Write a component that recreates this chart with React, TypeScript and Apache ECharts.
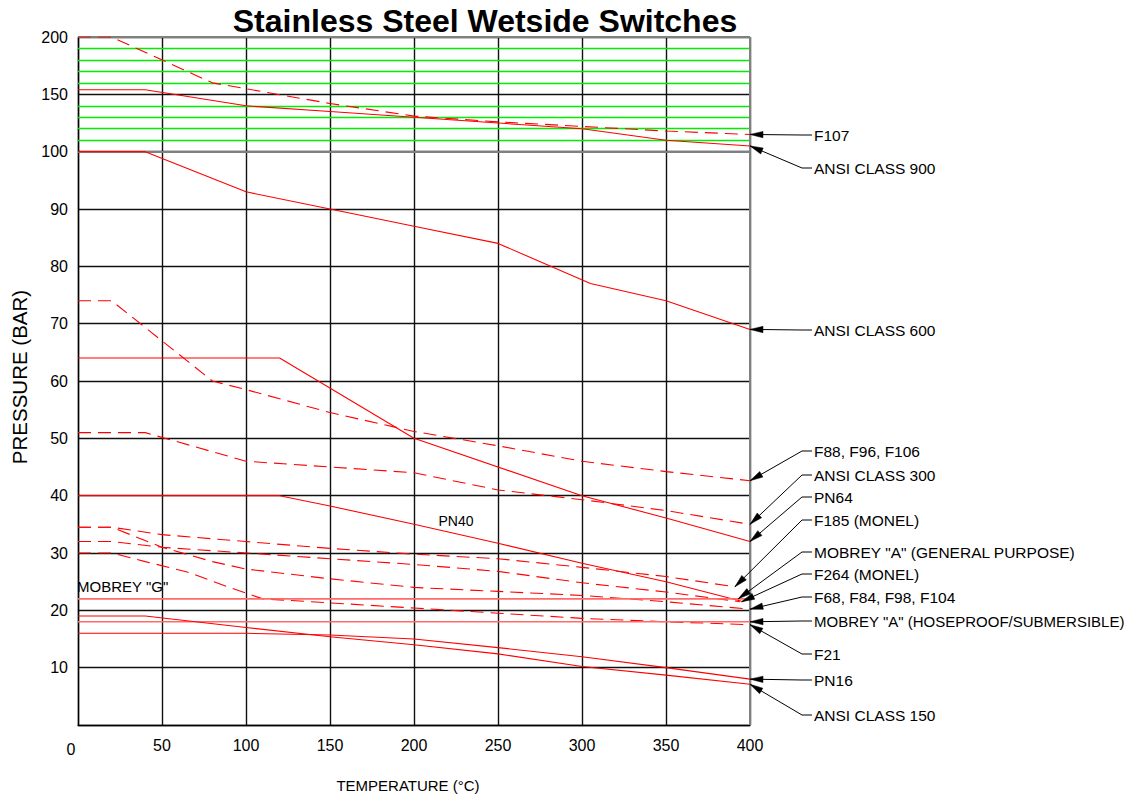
import React, { useEffect, useRef } from "react";
import * as echarts from "echarts";

// ---- axis scale: 0-100 bar linear, 100-200 bar compressed 5x ----
const tf = (p: number) => (p <= 100 ? p : 100 + (p - 100) / 5);

// ---- tick values ----
const xTicks = [0, 50, 100, 150, 200, 250, 300, 350, 400];
const greenLevels = [110, 120, 130, 140, 160, 170, 180, 190];

// ---- series data (temperature °C, pressure bar) ----
const f107T = [0, 20, 80, 150, 200, 250, 300, 350, 400];
const f107P = [200, 200, 160, 142, 131, 126, 122, 118, 115];

const ansi900T = [0, 40, 100, 150, 200, 250, 300, 350, 400];
const ansi900P = [154, 154, 140, 135, 130, 125, 120, 110, 105];

const ansi600T = [0, 40, 100, 150, 200, 250, 305, 350, 400];
const ansi600P = [100, 100, 93, 90, 87, 84, 77, 74, 69];

const f88T = [0, 20, 80, 100, 150, 200, 250, 300, 350, 400];
const f88P = [74, 74, 60, 58.5, 54.5, 51.2, 48.7, 46, 44.2, 42.6];

const ansi300T = [0, 40, 100, 150, 200, 250, 300, 350, 400];
const ansi300P = [51, 51, 46, 45, 44, 41, 39.3, 37.4, 35];

const pn64T = [0, 120, 200, 300, 350, 400];
const pn64P = [64, 64, 50, 40, 36.1, 32];

const pn40T = [0, 120, 150, 200, 250, 300, 350, 395];
const pn40P = [40, 40, 38.2, 35, 31.7, 28.2, 25, 21.6];

const f185T = [0, 20, 50, 100, 150, 200, 250, 300, 350, 391];
const f185P = [34.5, 34.5, 33.2, 32, 30.8, 29.8, 29, 27.5, 25.9, 24.1];

const f264T = [0, 20, 50, 100, 150, 200, 250, 300, 350, 394];
const f264P = [32, 32, 31, 30, 29, 28, 26.8, 24.8, 23.2, 21.5];

const f68T = [0, 20, 50, 80, 100, 150, 200, 250, 300, 350, 400];
const f68P = [34.5, 34.5, 31, 28.5, 27.2, 25.5, 24, 23.3, 22.6, 21.5, 20.2];

const f21T = [0, 20, 40, 65, 90, 110, 150, 200, 250, 300, 350, 400];
const f21P = [30, 30, 28.5, 26.7, 24, 22, 21.3, 20.4, 19.5, 18.6, 18, 17.5];

const mobreyGT = [0, 400];
const mobreyGP = [22, 22];

const mobreyAT = [0, 400];
const mobreyAP = [18, 18];

const pn16T = [0, 100, 150, 200, 250, 300, 350, 400];
const pn16P = [16, 16, 15.7, 15, 13.5, 11.9, 10, 8];

const ansi150T = [0, 40, 100, 150, 200, 250, 300, 350, 400];
const ansi150P = [19, 19, 17, 15.4, 14, 12.4, 10.2, 8.7, 7.1];

// ---- callouts ----
const calloutText = [
  "F107",
  "ANSI CLASS 900",
  "ANSI CLASS 600",
  "F88, F96, F106",
  "ANSI CLASS 300",
  "PN64",
  "F185 (MONEL)",
  'MOBREY "A" (GENERAL PURPOSE)',
  "F264 (MONEL)",
  "F68, F84, F98, F104",
  'MOBREY "A" (HOSEPROOF/SUBMERSIBLE)',
  "F21",
  "PN16",
  "ANSI CLASS 150",
];
const calloutTipT = [400, 400, 400, 400, 400, 400, 391, 393, 395, 400, 400, 400, 400, 400];
const calloutTipP = [115, 105, 69, 42.6, 35, 32, 24.1, 22, 21.5, 20.2, 18, 17.5, 8, 7.1];

const RED = "#ff0000";

type Def = { name: string; t: number[]; p: number[]; dashed?: boolean; color?: string; width?: number };
const defs: Def[] = [
  { name: "F107", t: f107T, p: f107P, dashed: true },
  { name: "ANSI CLASS 900", t: ansi900T, p: ansi900P },
  { name: "ANSI CLASS 600", t: ansi600T, p: ansi600P },
  { name: "F88, F96, F106", t: f88T, p: f88P, dashed: true },
  { name: "ANSI CLASS 300", t: ansi300T, p: ansi300P, dashed: true },
  { name: "PN64", t: pn64T, p: pn64P },
  { name: "PN40", t: pn40T, p: pn40P },
  { name: "F185 (MONEL)", t: f185T, p: f185P, dashed: true },
  { name: "F264 (MONEL)", t: f264T, p: f264P, dashed: true },
  { name: "F68, F84, F98, F104", t: f68T, p: f68P, dashed: true },
  { name: "F21", t: f21T, p: f21P, dashed: true },
  { name: 'MOBREY "G"', t: mobreyGT, p: mobreyGP, color: "#ff6a6a", width: 1.6 },
  { name: 'MOBREY "A" (HOSEPROOF/SUBMERSIBLE)', t: mobreyAT, p: mobreyAP, color: "#ff6a6a", width: 1.6 },
  { name: "PN16", t: pn16T, p: pn16P },
  { name: "ANSI CLASS 150", t: ansi150T, p: ansi150P },
];

const FONT = "Liberation Sans, Arial, sans-serif";

export default function App() {
  const ref = useRef<HTMLDivElement>(null);
  useEffect(() => {
    if (!ref.current) return;
    const chart = echarts.init(ref.current, undefined, { renderer: "svg" });

    const backgroundSeries: any[] = [
      {
        type: "line",
        name: "grid-minor",
        data: [],
        silent: true,
        z: 1,
        markLine: {
          silent: true,
          symbol: "none",
          z: 1,
          label: { show: false },
          lineStyle: { color: "#00ee00", width: 1.4, type: "solid" },
          data: greenLevels.map((g) => ({ yAxis: tf(g) })),
        },
      },
      {
        type: "line",
        name: "grid-major",
        data: [],
        silent: true,
        z: 1,
        markLine: {
          silent: true,
          symbol: "none",
          z: 1,
          label: { show: false },
          lineStyle: { color: "#808080", width: 2, type: "solid" },
          data: [{ yAxis: tf(100) }, { yAxis: tf(200) }, { xAxis: 400 }],
        },
      },
    ];

    const lineSeries = defs.map((d) => ({
      type: "line",
      name: d.name,
      z: 5,
      data: d.t.map((t, i) => [t, tf(d.p[i])]),
      symbol: "none",
      silent: true,
      lineStyle: {
        color: d.color || RED,
        width: d.width || 1.1,
        type: d.dashed ? [13, 7] : "solid",
      },
    }));

    chart.setOption({
      animation: false,
      backgroundColor: "#ffffff",
      grid: { left: 78, right: 384, top: 37, bottom: 73, containLabel: false },
      xAxis: {
        type: "value",
        min: 0,
        max: 400,
        interval: 50,
        axisLine: { show: true, lineStyle: { color: "#000", width: 1.4 } },
        axisTick: { show: false },
        splitLine: { show: true, lineStyle: { color: "#111", width: 1.4 } },
        axisLabel: {
          margin: 12,
          fontSize: 16,
          fontFamily: FONT,
          color: "#000",
          formatter: (v: number) => (v === 0 ? "" : String(v)),
        },
      },
      yAxis: {
        type: "value",
        min: 0,
        max: 120,
        interval: 10,
        axisLine: { show: true, lineStyle: { color: "#000", width: 1.4 } },
        axisTick: { show: false },
        splitLine: { show: true, lineStyle: { color: "#111", width: 1.4 } },
        axisLabel: {
          margin: 10,
          fontSize: 16,
          fontFamily: FONT,
          color: "#000",
          formatter: (v: number) => (v === 0 ? "" : v <= 100 ? String(v) : String(100 + (v - 100) * 5)),
        },
      },
      series: [...backgroundSeries, ...lineSeries],
    });

    const px = (t: number, p: number) =>
      chart.convertToPixel({ xAxisIndex: 0, yAxisIndex: 0 }, [t, tf(p)]) as number[];

    const graphics: any[] = [];
    // title
    graphics.push({
      type: "text",
      x: 485,
      y: 21,
      style: {
        text: "Stainless Steel Wetside Switches",
        font: `bold 32px ${FONT}`,
        fill: "#000",
        align: "center",
        verticalAlign: "middle",
      },
    });
    // y axis name
    graphics.push({
      type: "text",
      x: 19,
      y: 377,
      rotation: Math.PI / 2,
      style: {
        text: "PRESSURE (BAR)",
        font: `20.5px ${FONT}`,
        fill: "#000",
        align: "center",
        verticalAlign: "middle",
      },
    });
    // x axis name
    graphics.push({
      type: "text",
      x: 408,
      y: 785,
      style: {
        text: "TEMPERATURE (°C)",
        font: `15px ${FONT}`,
        fill: "#000",
        align: "center",
        verticalAlign: "middle",
      },
    });
    // origin label
    graphics.push({
      type: "text",
      x: 71,
      y: 749,
      style: { text: "0", font: `16px ${FONT}`, fill: "#000", align: "center", verticalAlign: "middle" },
    });
    // inside labels
    const pn40Pos = px(225, 35.6);
    graphics.push({
      type: "text",
      x: pn40Pos[0],
      y: pn40Pos[1],
      style: { text: "PN40", font: `14px ${FONT}`, fill: "#000", align: "center", verticalAlign: "middle" },
    });
    const mgPos = px(0, 22);
    graphics.push({
      type: "text",
      x: mgPos[0] - 1,
      y: mgPos[1] - 12,
      style: { text: 'MOBREY "G"', font: `15px ${FONT}`, fill: "#000", align: "left", verticalAlign: "middle" },
    });

    // callouts
    const labelYs = [135, 168, 330, 451, 475, 497, 520, 552, 574, 597, 621, 654, 680, 715];
    calloutText.forEach((txt, i) => {
      const ly = labelYs[i];
      const tip = px(calloutTipT[i], calloutTipP[i]);
      const elbow = [802, ly];
      graphics.push({
        type: "polyline",
        z: 10,
        shape: { points: [[812, ly], elbow, tip] },
        style: { stroke: "#000", lineWidth: 1, fill: null },
      });
      const dx = tip[0] - elbow[0];
      const dy = tip[1] - elbow[1];
      const len = Math.sqrt(dx * dx + dy * dy) || 1;
      const ux = dx / len;
      const uy = dy / len;
      const L = 13;
      const W = 3.2;
      const bx = tip[0] - ux * L;
      const by = tip[1] - uy * L;
      graphics.push({
        type: "polygon",
        z: 10,
        shape: {
          points: [
            [tip[0], tip[1]],
            [bx - uy * W, by + ux * W],
            [bx + uy * W, by - ux * W],
          ],
        },
        style: { fill: "#000", stroke: "#000", lineWidth: 0.5 },
      });
      const long = txt.length > 30;
      graphics.push({
        type: "text",
        x: 814,
        y: ly,
        style: {
          text: txt,
          font: `${long ? 15 : 15.5}px ${FONT}`,
          fill: "#000",
          align: "left",
          verticalAlign: "middle",
        },
      });
    });

    chart.setOption({ graphic: graphics });

    return () => {
      chart.dispose();
    };
  }, []);

  return (
    <div
      ref={ref}
      style={{ position: "absolute", left: 0, top: 0, width: 1134, height: 798, background: "#fff" }}
    />
  );
}
